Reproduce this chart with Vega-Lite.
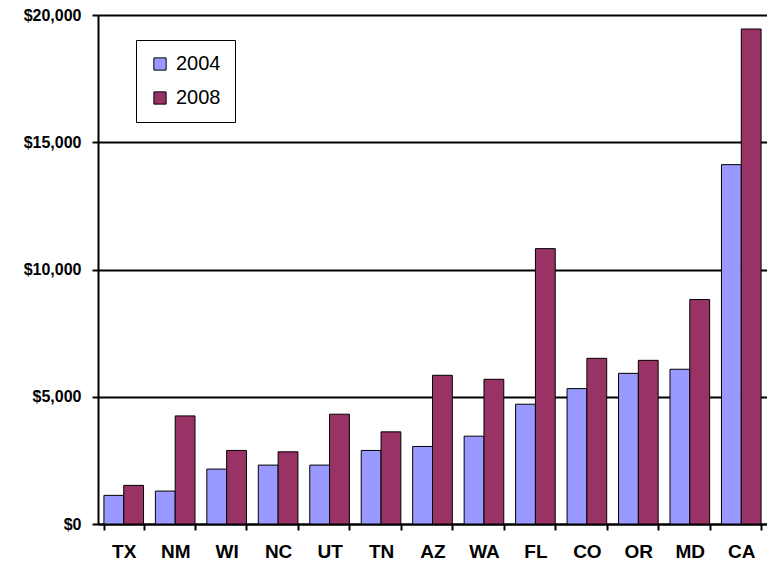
{
  "$schema": "https://vega.github.io/schema/vega-lite/v6.json",
  "autosize": "none",
  "width": 669,
  "height": 509,
  "padding": {"left": 98, "top": 15, "right": 0, "bottom": 45},
  "background": "white",
  "config": {"view": {"stroke": null}, "font": "Liberation Sans"},
  "data": {"values": [
    {"state": "TX", "year": "2004", "value": 1125}, {"state": "TX", "year": "2008", "value": 1518},
    {"state": "NM", "year": "2004", "value": 1294}, {"state": "NM", "year": "2008", "value": 4247},
    {"state": "WI", "year": "2004", "value": 2157}, {"state": "WI", "year": "2008", "value": 2890},
    {"state": "NC", "year": "2004", "value": 2314}, {"state": "NC", "year": "2008", "value": 2837},
    {"state": "UT", "year": "2004", "value": 2314}, {"state": "UT", "year": "2008", "value": 4314},
    {"state": "TN", "year": "2004", "value": 2890}, {"state": "TN", "year": "2008", "value": 3620},
    {"state": "AZ", "year": "2004", "value": 3047}, {"state": "AZ", "year": "2008", "value": 5843},
    {"state": "WA", "year": "2004", "value": 3451}, {"state": "WA", "year": "2008", "value": 5686},
    {"state": "FL", "year": "2004", "value": 4706}, {"state": "FL", "year": "2008", "value": 10820},
    {"state": "CO", "year": "2004", "value": 5320}, {"state": "CO", "year": "2008", "value": 6510},
    {"state": "OR", "year": "2004", "value": 5920}, {"state": "OR", "year": "2008", "value": 6430},
    {"state": "MD", "year": "2004", "value": 6080}, {"state": "MD", "year": "2008", "value": 8820},
    {"state": "CA", "year": "2004", "value": 14120}, {"state": "CA", "year": "2008", "value": 19450}
  ]},
  "mark": {"type": "bar", "stroke": "black", "strokeWidth": 1},
  "encoding": {
    "x": {
      "field": "state", "type": "nominal", "sort": null,
      "scale": {"paddingInner": 0.23, "paddingOuter": 0.115},
      "axis": {
        "title": null, "labelAngle": 0, "labelFontSize": 19, "labelFontWeight": "bold",
        "labelColor": "black", "labelPadding": 12, "tickBand": "extent", "tickColor": "black",
        "tickSize": 6, "tickWidth": 2, "domainColor": "black", "domainWidth": 2
      }
    },
    "xOffset": {"field": "year", "type": "nominal", "scale": {"paddingInner": 0}},
    "y": {
      "field": "value", "type": "quantitative",
      "scale": {"domain": [0, 20000], "nice": false},
      "axis": {
        "title": null, "values": [0, 5000, 10000, 15000, 20000], "format": "$,.0f",
        "labelFontSize": 16, "labelFontWeight": "bold", "labelColor": "black", "labelPadding": 11,
        "grid": true, "gridColor": "black", "gridWidth": 2, "gridOpacity": 1,
        "tickColor": "black", "tickSize": 6, "tickWidth": 2,
        "domainColor": "black", "domainWidth": 2
      }
    },
    "color": {
      "field": "year", "type": "nominal",
      "scale": {"domain": ["2004", "2008"], "range": ["#9999FF", "#993366"]},
      "legend": {
        "title": null, "orient": "none", "legendX": 38, "legendY": 25,
        "strokeColor": "black", "fillColor": "white", "padding": 14,
        "symbolType": "square", "symbolSize": 150, "symbolStrokeColor": "black",
        "symbolStrokeWidth": 1, "labelFontSize": 20, "labelColor": "black",
        "rowPadding": 14, "labelOffset": 6
      }
    }
  }
}
